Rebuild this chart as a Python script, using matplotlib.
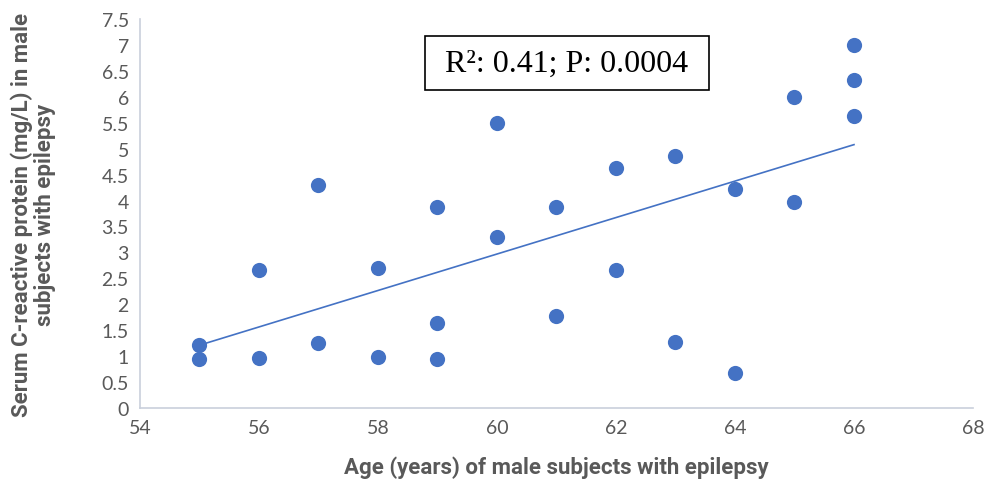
import numpy as np
import matplotlib.pyplot as plt

# age (years) and serum CRP (mg/L)
age = [55, 55, 56, 56, 57, 57, 58, 58, 59, 59, 59, 60, 60,
       61, 61, 62, 62, 63, 63, 64, 64, 65, 65, 66, 66, 66]
crp = [1.21, 0.94, 2.66, 0.97, 4.30, 1.25, 2.70, 0.99, 3.87, 1.64, 0.94, 5.49, 3.29,
       3.88, 1.78, 4.62, 2.66, 4.86, 1.27, 4.23, 0.68, 5.99, 3.98, 7.00, 6.33, 5.63]

x_ticks = [54, 56, 58, 60, 62, 64, 66, 68]
y_ticks = [0, 0.5, 1, 1.5, 2, 2.5, 3, 3.5, 4, 4.5, 5, 5.5, 6, 6.5, 7, 7.5]
annot = " R²: 0.41; P: 0.0004 "

blue = "#4472C4"
grey = "#595959"

fig = plt.figure(figsize=(9.88, 4.85), dpi=100)
ax = fig.add_axes([0.1417, 0.1567, 0.8431, 0.8021])

ax.scatter(age, crp, s=120, color=blue, zorder=3, linewidths=0)

# linear trendline over the data range
k, b = np.polyfit(age, crp, 1)
xs = np.array([min(age), max(age)])
ax.plot(xs, k * xs + b, color=blue, lw=1.2, zorder=2)

ax.set_xlim(54, 68)
ax.set_ylim(0, 7.5)
ax.set_xticks(x_ticks)
ax.set_yticks(y_ticks)
ax.set_yticklabels([f"{v:g}" for v in y_ticks])
ax.tick_params(length=0, labelsize=14, labelcolor=grey, pad=8)
for lab in ax.get_xticklabels() + ax.get_yticklabels():
    lab.set_fontfamily("Lato")

for s in ["top", "right"]:
    ax.spines[s].set_visible(False)
for s in ["left", "bottom"]:
    ax.spines[s].set_color("#C9CFDB")
    ax.spines[s].set_linewidth(1.2)

ax.set_xlabel("Age (years) of male subjects with epilepsy", fontsize=16,
              fontweight="bold", color=grey, family="Roboto", labelpad=14)
ax.set_ylabel("Serum C-reactive protein (mg/L) in male\nsubjects with epilepsy",
              fontsize=16, fontweight="bold", color=grey, family="Roboto",
              labelpad=33, linespacing=1.05)

ax.text(0.5126, 0.887, annot, transform=ax.transAxes, fontsize=23,
        family="Liberation Serif", va="center", ha="center",
        bbox=dict(boxstyle="square,pad=0.38", fc="white", ec="black", lw=1.2))

fig.savefig("out.png", dpi=100)
